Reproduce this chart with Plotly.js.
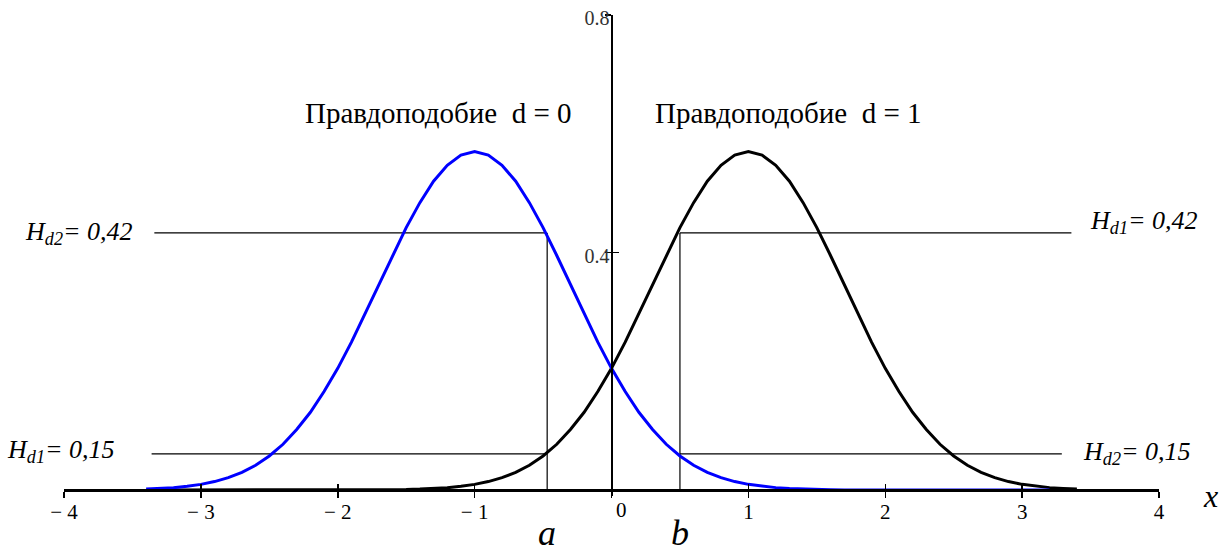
<!DOCTYPE html>
<html>
<head>
<meta charset="utf-8">
<script src="https://cdn.plot.ly/plotly-3.0.1.min.js"></script>
<style>
  html, body { margin: 0; padding: 0; background: #ffffff; }
  #chart { width: 1230px; height: 555px; }
</style>
</head>
<body>
<div id="chart"></div>
<script>
// Likelihood curve for d = 0 (blue), sampled on its own x grid
const xGridD0 = [-3.4,-3.3,-3.2,-3.1,-3.0,-2.9,-2.8,-2.7,-2.6,-2.5,-2.4,-2.3,-2.2,-2.1,-2.0,-1.9,-1.8,-1.7,-1.6,-1.5,-1.4,-1.3,-1.2,-1.1,-1.0,
  -0.9,-0.8,-0.7,-0.6,-0.5,-0.4,-0.3,-0.2,-0.1,0.0,0.1,0.2,0.3,0.4,0.5,0.6,0.7,0.8,0.9,1.0,1.1,1.2,1.3,1.4,1.5,1.6,1.7,1.8,1.9,2.0,
  2.1,2.2,2.3,2.4,2.5,2.6,2.7,2.8,2.9,3.0,3.1,3.2];
const likelihoodD0 = [0.0016,0.0026,0.0041,0.0063,0.0096,0.0143,0.0209,0.0299,0.0418,0.0574,0.0771,0.102,0.131,0.166,0.205,0.249,0.297,0.346,0.395,0.442,0.484,0.520,0.547,0.564,0.570,
  0.564,0.547,0.520,0.484,0.442,0.395,0.346,0.297,0.249,0.205,0.166,0.131,0.102,0.0771,0.0574,0.0418,0.0299,0.0209,0.0143,0.0096,0.0063,0.0041,0.0026,0.0016,0.0010,0.0006,0.0003,0.0002,0.0001,0.0001,
  0,0,0,0,0,0,0,0,0,0,0,0];

// Likelihood curve for d = 1 (black)
const xGridD1 = [-3.2,-3.1,-3.0,-2.9,-2.8,-2.7,-2.6,-2.5,-2.4,-2.3,-2.2,-2.1,-2.0,-1.9,-1.8,-1.7,-1.6,-1.5,-1.4,-1.3,-1.2,-1.1,-1.0,
  -0.9,-0.8,-0.7,-0.6,-0.5,-0.4,-0.3,-0.2,-0.1,0.0,0.1,0.2,0.3,0.4,0.5,0.6,0.7,0.8,0.9,1.0,1.1,1.2,1.3,1.4,1.5,1.6,1.7,1.8,1.9,2.0,
  2.1,2.2,2.3,2.4,2.5,2.6,2.7,2.8,2.9,3.0,3.1,3.2,3.3,3.4];
const likelihoodD1 = [0,0,0,0,0,0,0,0,0,0,0,0,
  0.0001,0.0001,0.0002,0.0003,0.0006,0.0010,0.0016,0.0026,0.0041,0.0063,0.0096,0.0143,0.0209,0.0299,0.0418,0.0574,0.0771,0.102,0.131,0.166,0.205,
  0.249,0.297,0.346,0.395,0.442,0.484,0.520,0.547,0.564,0.570,0.564,0.547,0.520,0.484,0.442,0.395,0.346,0.297,0.249,0.205,0.166,0.131,0.102,0.0771,
  0.0574,0.0418,0.0299,0.0209,0.0143,0.0096,0.0063,0.0041,0.0026,0.0016];

// Decision thresholds a, b and the likelihood levels read at them
const thresholds = [-0.47, 0.5];
const levels = [0.433, 0.061];            // [high, low]
const leftEnds = [-3.34, -3.36];          // where the left guide lines start (high, low)
const rightEnds = [3.36, 3.29];           // where the right guide lines end (high, low)

const xTickVals = [-4, -3, -2, -1, 0, 1, 2, 3, 4];
const xTickText = ['\u2212 4', '\u2212 3', '\u2212 2', '\u2212 1', '', '1', '2', '3', '4'];
const yTickVals = [0.4, 0.8];
const yTickText = ['0.4', '0.8'];

const curveLabels = ['Правдоподобие\u00a0\u00a0d = 0', 'Правдоподобие\u00a0\u00a0d = 1'];
const levelLabels = [
  '<i>H<sub>d2</sub>= 0,42</i>',
  '<i>H<sub>d1</sub>= 0,15</i>',
  '<i>H<sub>d1</sub>= 0,42</i>',
  '<i>H<sub>d2</sub>= 0,15</i>'
];

const SERIF = 'Liberation Serif, Times New Roman, serif';
const yMin = -0.01, yMax = 0.8;
const xAxisPos = (0 - yMin) / (yMax - yMin);

const [a, b] = thresholds;
const [hi, lo] = levels;

function guide(xs, ys) {
  return { x: xs, y: ys, mode: 'lines', line: { color: '#000', width: 1.2 },
           hoverinfo: 'skip', showlegend: false };
}

const traces = [
  guide([leftEnds[0], a], [hi, hi]),
  guide([leftEnds[1], a], [lo, lo]),
  guide([b, rightEnds[0]], [hi, hi]),
  guide([b, rightEnds[1]], [lo, lo]),
  guide([a, a], [0, hi]),
  guide([b, b], [0, hi]),
  { x: xGridD1, y: likelihoodD1, mode: 'lines', line: { color: '#000000', width: 3 },
    hoverinfo: 'skip', showlegend: false },
  { x: xGridD0, y: likelihoodD0, mode: 'lines', line: { color: '#0000ff', width: 3 },
    hoverinfo: 'skip', showlegend: false },
  // carrier for the mirrored tick axes
  { x: [null], y: [null], xaxis: 'x2', yaxis: 'y2', hoverinfo: 'skip', showlegend: false }
];

const txt = (size) => ({ family: SERIF, size: size, color: '#000' });

const annotations = [
  { x: -1.27, y: 0.635, text: curveLabels[0], font: txt(29) },
  { x: 1.29, y: 0.635, text: curveLabels[1], font: txt(29) },
  { x: -3.48, y: hi, xanchor: 'right', text: levelLabels[0], font: txt(26) },
  { x: -3.61, y: lo + 0.004, xanchor: 'right', text: levelLabels[1], font: txt(26) },
  { x: 3.48, y: hi + 0.018, xanchor: 'left', text: levelLabels[2], font: txt(26) },
  { x: 3.43, y: lo + 0.001, xanchor: 'left', text: levelLabels[3], font: txt(26) },
  { x: a, yref: 'paper', y: -0.1215, yanchor: 'bottom', borderpad: 0, text: '<i>a</i>', font: txt(36) },
  { x: b, yref: 'paper', y: -0.1215, yanchor: 'bottom', borderpad: 0, text: '<i>b</i>', font: txt(36) },
  { xref: 'paper', x: 1.0466, yref: 'paper', y: 0.0, text: '<i>x</i>', font: txt(32) },
  { x: 0, y: 0, yanchor: 'top', xshift: 10, yshift: -6, text: '0', font: txt(21) }
].map(o => Object.assign({ xref: 'x', yref: 'y', showarrow: false,
                           xanchor: 'center', yanchor: 'middle' }, o));

const layout = {
  width: 1230, height: 555,
  margin: { l: 64, r: 71, t: 15, b: 59, pad: 0 },
  paper_bgcolor: '#ffffff', plot_bgcolor: '#ffffff',
  showlegend: false,
  xaxis: {
    range: [-4, 4], anchor: 'free', position: xAxisPos,
    showgrid: false, zeroline: false,
    showline: true, linecolor: '#000', linewidth: 3,
    ticks: 'outside', ticklen: 6, tickwidth: 1.5, tickcolor: '#000',
    tickmode: 'array', tickvals: xTickVals, ticktext: xTickText,
    ticklabelstandoff: -4,
    tickfont: txt(21)
  },
  xaxis2: {
    range: [-4, 4], overlaying: 'x', anchor: 'free', position: xAxisPos,
    showgrid: false, zeroline: false, showline: false,
    ticks: 'inside', ticklen: 6, tickwidth: 1.5, tickcolor: '#000',
    tickmode: 'array', tickvals: xTickVals, showticklabels: false
  },
  yaxis: {
    range: [yMin, yMax], anchor: 'free', position: 0.5,
    showgrid: false, zeroline: false,
    showline: true, linecolor: '#000', linewidth: 2.5,
    ticks: 'outside', ticklen: 6, tickwidth: 1.5, tickcolor: '#000',
    tickmode: 'array', tickvals: yTickVals, ticktext: yTickText,
    ticklabelstandoff: -9, ticklabelshift: 3,
    tickfont: { family: SERIF, size: 20, color: '#333' }
  },
  yaxis2: {
    range: [yMin, yMax], overlaying: 'y', anchor: 'free', position: 0.5,
    showgrid: false, zeroline: false, showline: false,
    ticks: 'inside', ticklen: 6, tickwidth: 1.5, tickcolor: '#000',
    tickmode: 'array', tickvals: yTickVals, showticklabels: false
  },
  annotations: annotations
};

Plotly.newPlot('chart', traces, layout, { staticPlot: true, displayModeBar: false });
</script>
</body>
</html>
